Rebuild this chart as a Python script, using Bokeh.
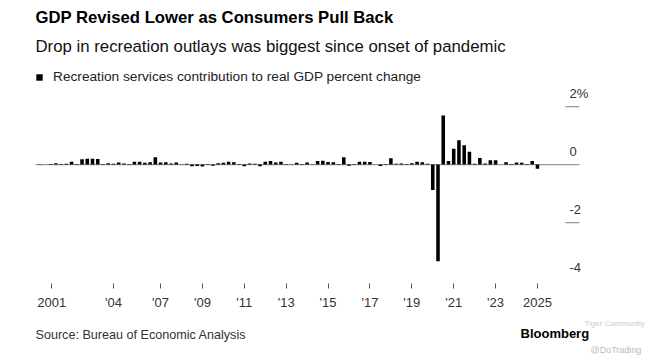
import pandas as pd
from bokeh.plotting import figure
from bokeh.layouts import column
from bokeh.models import ColumnDataSource, Range1d, FixedTicker, Legend, LegendItem
from bokeh.core.properties import value
from bokeh.embed import file_html
from bokeh.resources import INLINE

# ---------------- data ----------------
first_quarter = "2001Q1"
contribution = [
    0.00, 0.01, 0.00, 0.02, 0.05, 0.02, 0.03, 0.10,   # 2001-2002
    0.02, 0.18, 0.20, 0.20, 0.19, 0.02, 0.05, 0.03,   # 2003-2004
    0.07, 0.04, 0.02, 0.10, 0.10, 0.06, 0.08, 0.25,   # 2005-2006
    0.07, 0.08, 0.04, 0.07, 0.01, 0.03, -0.06, -0.05, # 2007-2008
    -0.07, 0.02, -0.04, 0.05, 0.06, 0.10, 0.08, 0.02, # 2009-2010
    -0.06, 0.04, 0.03, -0.06, 0.10, 0.12, 0.07, 0.10, # 2011-2012
    0.02, 0.01, 0.06, 0.02, 0.07, 0.01, 0.12, 0.13,   # 2013-2014
    0.09, 0.08, 0.02, 0.25, -0.04, 0.02, 0.10, 0.10,  # 2015-2016
    0.09, 0.00, -0.05, 0.02, 0.22, 0.03, 0.04, 0.02,  # 2017-2018
    0.05, 0.10, 0.08, 0.03, -0.88, -3.33, 1.69, 0.12, # 2019-2020
    0.55, 0.84, 0.67, 0.44, 0.03, 0.23, 0.04, 0.15,   # 2021-2022
    0.15, 0.00, 0.08, 0.02, 0.07, 0.06, 0.02, 0.12,   # 2023-2024
    -0.14,                                            # 2025
]
x_tick_values = [2001.8, 2004.75, 2007, 2009, 2011, 2013, 2015, 2017, 2019, 2021, 2023, 2025]
x_tick_labels = ["2001", "'04", "'07", "'09", "'11", "'13", "'15", "'17", "'19", "'21", "'23", "2025"]
y_tick_values = [2, 0, -2, -4]
y_tick_labels = ["2%", "0", "-2", "-4"]
y_tick_marks = [2, -2]

title_text = "GDP Revised Lower as Consumers Pull Back"
subtitle_text = "Drop in recreation outlays was biggest since onset of pandemic"
legend_text = "Recreation services contribution to real GDP percent change"
source_text = "Source: Bureau of Economic Analysis"
brand_text = "Bloomberg"

quarters = pd.period_range(first_quarter, periods=len(contribution), freq="Q")
xpos = [q.year + (q.quarter - 1) / 4 for q in quarters]
src = ColumnDataSource(dict(x=xpos, v=contribution))

FONT = value("Liberation Sans")
W = 646


def bare(f):
    f.outline_line_color = None
    f.xgrid.visible = False
    f.ygrid.visible = False
    return f


def text_panel(height):
    f = figure(width=W, height=height, output_backend="svg", toolbar_location=None,
               x_range=Range1d(0, W), y_range=Range1d(height, 0),
               x_axis_location=None, y_axis_location=None,
               min_border=0, min_border_left=0, min_border_right=0,
               min_border_top=0, min_border_bottom=0,
               background_fill_color="white", border_fill_color="white")
    return bare(f)


# ---------------- header ----------------
header = text_panel(62)
header.text(x=[35], y=[17], text=[title_text], text_font=FONT, text_font_size="16.7px",
            text_font_style="bold", text_color="#000000", text_baseline="middle")
header.text(x=[35], y=[46], text=[subtitle_text], text_font=FONT, text_font_size="16.8px",
            text_color="#111111", text_baseline="middle")

# ---------------- main chart ----------------
px_per_year = 20.94
x_start = 2000.98 - 34 / px_per_year
x_end = 2028.01 + 46 / px_per_year
base_start, axis_end = 2001.03, 2027.0
p = figure(width=W, height=256, output_backend="svg", toolbar_location=None,
           x_range=Range1d(x_start, x_end), y_range=Range1d(-4.10, 3.52),
           min_border_left=0, min_border_right=0, min_border_top=0, min_border_bottom=35,
           y_axis_location=None, background_fill_color="white", border_fill_color="white")
p.title.text = ""
bare(p)

ax = p.xaxis[0]
ax.ticker = FixedTicker(ticks=x_tick_values)
ax.major_label_overrides = dict(zip(x_tick_values, x_tick_labels))
ax.axis_line_color = None
ax.major_tick_line_color = "#555555"
ax.major_tick_out = 5
ax.major_tick_in = 0
ax.minor_tick_line_color = None
ax.major_label_text_font = "Liberation Sans"
ax.major_label_text_font_size = "13px"
ax.major_label_text_color = "#333333"
ax.major_label_standoff = 6

p.segment(x0=base_start, x1=axis_end, y0=0, y1=0, line_color="#999999", line_width=1.2)
p.segment(x0=axis_end - 0.67, x1=axis_end, y0=y_tick_marks, y1=y_tick_marks,
          line_color="#999999", line_width=1.2)
p.text(x=axis_end - 0.47, y=y_tick_values, text=y_tick_labels, text_align="left",
       text_baseline="middle", y_offset=-13, text_font_size="13px",
       text_color="#333333", text_font=FONT)

bars = p.vbar(x="x", top="v", bottom=0, width=0.17, source=src,
              fill_color="black", line_color=None)

legend = Legend(items=[LegendItem(label=legend_text, renderers=[bars])],
                location=(35, 199), padding=0, margin=0, spacing=0,
                border_line_color=None, background_fill_alpha=0,
                glyph_width=8, glyph_height=8, label_standoff=10,
                label_height=14, label_text_font="Liberation Sans",
                label_text_font_size="13.7px", label_text_color="#222222")
p.add_layout(legend, "center")

# ---------------- footer ----------------
footer = text_panel(40)
footer.text(x=[35], y=[16], text=[source_text], text_font=FONT, text_font_size="12.6px",
            text_color="#333333", text_baseline="middle")
footer.text(x=[520], y=[15], text=[brand_text], text_font=FONT, text_font_size="13px",
            text_font_style="bold", text_color="#000000", text_baseline="middle")
footer.text(x=[584], y=[5], text=["Tiger Community"], text_font=FONT, text_font_size="8px",
            text_color="#cccccc", text_baseline="middle")
footer.text(x=[590], y=[31], text=["@DoTrading"], text_font=FONT, text_font_size="9px",
            text_color="#bbbbbb", text_baseline="middle")

layout = column(header, p, footer, spacing=0)
open("out.html", "w").write(file_html(layout, INLINE))
